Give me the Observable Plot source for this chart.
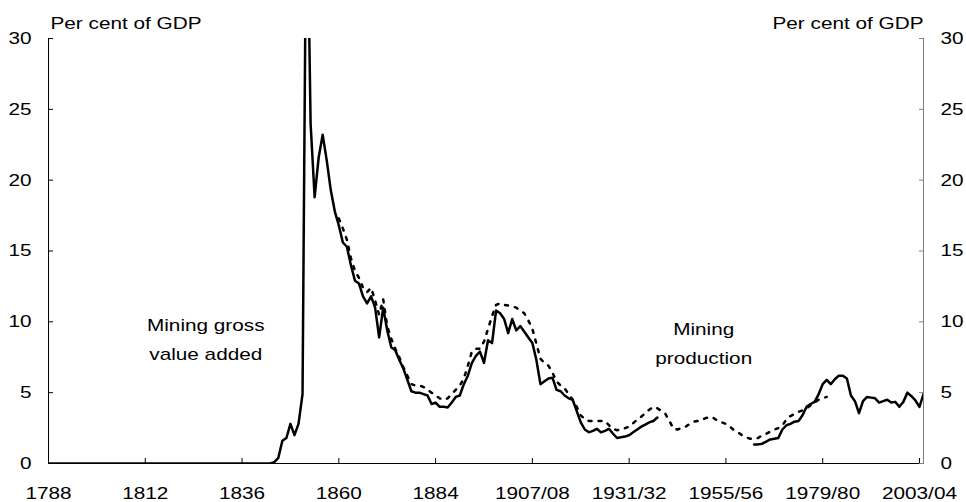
<!DOCTYPE html>
<html>
<head>
<meta charset="utf-8">
<script src="https://cdn.jsdelivr.net/npm/d3@7"></script>
<script src="https://cdn.jsdelivr.net/npm/@observablehq/plot@0.6"></script>
<style>
html, body { margin: 0; padding: 0; background: #fff; }
#chart svg { display: block; }
</style>
</head>
<body>
<div id="chart"></div>
<script>
// ---- data ----
const xDomain = [1788, 2005];
const yDomain = [0, 30];
const xTickYears = [1788, 1812, 1836, 1860, 1884, 1908, 1932, 1956, 1980, 2004];
const xTickLabels = ["1788", "1812", "1836", "1860", "1884", "1907/08", "1931/32", "1955/56", "1979/80", "2003/04"];
const yTicks = [0, 5, 10, 15, 20, 25, 30];
const axisTitle = "Per cent of GDP";

// Mining gross value added (solid), [year, per cent of GDP]; null = gap in data
const gvaSeries = [
  [1788, 0], [1843, 0], [1844, 0.1], [1845, 0.4], [1846, 1.6], [1847, 1.8], [1848, 2.8], [1849, 2.0],
  [1850, 2.8], [1851, 4.9], [1852, 43], [1853, 24], [1854, 18.8], [1855, 21.6], [1856, 23.2], [1857, 21.4],
  [1858, 19.3], [1859, 17.8], [1860, 16.8], [1861, 15.6], [1862, 15.3], [1863, 14.0], [1864, 12.9],
  [1865, 12.7], [1866, 11.8], [1867, 11.3], [1868, 11.8], [1869, 11.0], [1870, 8.9], [1871, 11.0],
  [1872, 9.4], [1873, 8.2], [1874, 8.0], [1875, 7.3], [1876, 6.7], [1877, 5.9], [1878, 5.1], [1879, 5.0],
  [1880, 5.0], [1881, 4.9], [1882, 4.8], [1883, 4.2], [1884, 4.3], [1885, 4.0], [1886, 4.0], [1887, 3.95],
  [1888, 4.3], [1889, 4.7], [1890, 4.8], [1891, 5.6], [1892, 6.2], [1893, 7.1], [1894, 7.6], [1895, 7.9],
  [1896, 7.1], [1897, 8.7], [1898, 8.5], [1899, 10.8], [1900, 10.6], [1901, 10.2], [1902, 9.2], [1903, 10.2],
  [1904, 9.4], [1905, 9.7], [1906, 9.3], [1907, 8.9], [1908, 8.5], [1909, 7.3], [1910, 5.6], [1911, 5.8],
  [1912, 6.0], [1913, 6.05], [1914, 5.2], [1915, 5.1], [1916, 4.8], [1917, 4.6], [1918, 4.5], [1919, 3.7],
  [1920, 2.9], [1921, 2.4], [1922, 2.2], [1923, 2.3], [1924, 2.45], [1925, 2.2], [1926, 2.3], [1927, 2.45],
  [1928, 2.1], [1929, 1.8], [1930, 1.85], [1931, 1.9], [1932, 2.0], [1933, 2.2], [1934, 2.4], [1935, 2.6],
  [1936, 2.75], [1937, 2.9], [1938, 3.0], [1939, 3.25],
  [1950, null],
  [1963, 1.35], [1964, 1.35], [1965, 1.4], [1966, 1.55], [1967, 1.7], [1968, 1.75], [1969, 1.8], [1970, 2.4],
  [1971, 2.7], [1972, 2.8], [1973, 2.95], [1974, 3.0], [1975, 3.4], [1976, 4.0], [1977, 4.2], [1978, 4.35],
  [1979, 4.9], [1980, 5.6], [1981, 5.9], [1982, 5.6], [1983, 5.95], [1984, 6.2], [1985, 6.2], [1986, 6.0],
  [1987, 4.8], [1988, 4.4], [1989, 3.55], [1990, 4.4], [1991, 4.7], [1992, 4.65], [1993, 4.6], [1994, 4.3],
  [1995, 4.4], [1996, 4.5], [1997, 4.3], [1998, 4.35], [1999, 4.0], [2000, 4.35], [2001, 5.0], [2002, 4.75],
  [2003, 4.45], [2004, 4.0], [2005, 4.9]
];

// Mining production (dotted), [year, per cent of GDP]
const prodSeries = [
  [1860, 17.3], [1861, 16.6], [1862, 15.8], [1863, 14.5], [1864, 13.6], [1865, 13.1], [1866, 12.4],
  [1867, 12.1], [1868, 12.4], [1869, 11.5], [1870, 10.5], [1871, 11.6], [1872, 9.7], [1873, 8.8],
  [1874, 8.1], [1875, 7.5], [1876, 6.8], [1877, 6.2], [1878, 5.6], [1879, 5.5], [1880, 5.5], [1881, 5.4],
  [1882, 5.2], [1883, 5.0], [1884, 4.8], [1885, 4.6], [1886, 4.5], [1887, 4.6], [1888, 4.9], [1889, 5.2],
  [1890, 5.5], [1891, 6.0], [1892, 6.9], [1893, 7.9], [1894, 8.1], [1895, 8.1], [1896, 8.6], [1897, 9.5],
  [1898, 10.4], [1899, 11.2], [1900, 11.3], [1901, 11.2], [1902, 11.15], [1903, 11.1], [1904, 11.0],
  [1905, 10.8], [1906, 10.6], [1907, 10.1], [1908, 9.5], [1909, 8.45], [1910, 7.4], [1911, 7.1],
  [1912, 6.9], [1913, 6.4], [1914, 5.8], [1915, 5.5], [1916, 5.3], [1917, 4.9], [1918, 4.5], [1919, 4.0],
  [1920, 3.4], [1921, 3.15], [1922, 3.0], [1923, 3.0], [1924, 3.0], [1925, 3.0], [1926, 3.0], [1927, 2.7],
  [1928, 2.45], [1929, 2.35], [1930, 2.4], [1931, 2.5], [1932, 2.6], [1933, 2.85], [1934, 3.1], [1935, 3.3],
  [1936, 3.55], [1937, 3.8], [1938, 4.0], [1939, 3.9], [1940, 3.7], [1941, 3.5], [1942, 3.0], [1943, 2.45],
  [1944, 2.4], [1945, 2.5], [1946, 2.6], [1947, 2.8], [1948, 2.95], [1949, 3.0], [1950, 3.1], [1951, 3.2],
  [1952, 3.3], [1953, 3.2], [1954, 3.0], [1955, 2.9], [1956, 2.8], [1957, 2.6], [1958, 2.35], [1959, 2.2],
  [1960, 2.0], [1961, 1.85], [1962, 1.75], [1963, 1.75], [1964, 1.8], [1965, 2.0], [1966, 2.1], [1967, 2.25],
  [1968, 2.4], [1969, 2.5], [1970, 2.7], [1971, 3.1], [1972, 3.35], [1973, 3.5], [1974, 3.65], [1975, 3.75],
  [1976, 3.9], [1977, 4.1], [1978, 4.3], [1979, 4.5], [1980, 4.6], [1981, 4.7]
];

// In-chart labels
const annText = ["Mining gross", "value added", "Mining", "production"];
const annYear = [1827, 1827, 1950.5, 1950.5];
const annValue = [9.77, 7.72, 9.49, 7.44];

// ---- chart ----
const FONT = "'Liberation Sans', Arial, Helvetica, sans-serif";
const FS = 17;
const annotations = annText.map((t, i) => ({text: t, x: annYear[i], y: annValue[i]}));
const fmtX = d => xTickLabels[xTickYears.indexOf(d)];

const chart = Plot.plot({
  width: 966,
  height: 502,
  marginLeft: 48,
  marginRight: 43,
  marginTop: 38,
  marginBottom: 39,
  style: {fontFamily: FONT, fontSize: FS + "px", color: "#000", background: "#fff", overflow: "visible"},
  x: {type: "linear", domain: xDomain},
  y: {type: "linear", domain: yDomain},
  marks: [
    // axis lines
    Plot.ruleX([xDomain[1]], {stroke: "#808080", strokeWidth: 1}),
    Plot.ruleX([xDomain[0]], {stroke: "#000", strokeWidth: 1}),
    Plot.ruleY([yDomain[0]], {stroke: "#000", strokeWidth: 1}),
    // axes with inward ticks
    Plot.axisY(yTicks, {anchor: "left", tickSize: -5, tickPadding: 22, label: null, fontSize: FS, stroke: "#000", fill: "#000"}),
    Plot.axisY(yTicks, {anchor: "right", tickSize: -5, tickPadding: 22, label: null, fontSize: FS, stroke: "#808080", fill: "#000"}),
    Plot.axisX(xTickYears, {anchor: "bottom", tickSize: -5, tickPadding: 28, tickFormat: fmtX, label: null, fontSize: FS, stroke: "#000", fill: "#000"}),
    // series
    Plot.line(prodSeries, {x: d => d[0], y: d => d[1], stroke: "#000", strokeWidth: 2.5, strokeDasharray: "3,7", clip: true}),
    Plot.line(gvaSeries, {x: d => d[0], y: d => d[1], stroke: "#000", strokeWidth: 2.5, clip: true}),
    // annotations
    Plot.text(annotations, {x: "x", y: "y", text: "text", fontSize: FS, fill: "#000", textAnchor: "middle"}),
    // axis titles
    Plot.text([axisTitle], {text: d => d, frameAnchor: "top-left", textAnchor: "start", lineAnchor: "bottom", dx: 2, dy: -10, fontSize: FS, fill: "#000"}),
    Plot.text([axisTitle], {text: d => d, frameAnchor: "top-right", textAnchor: "end", lineAnchor: "bottom", dx: 0, dy: -10, fontSize: FS, fill: "#000"})
  ]
});

document.getElementById("chart").append(chart);

// the reference font is horizontally wide: stretch text widths
chart.querySelectorAll("text").forEach(t => {
  if (t.querySelector("tspan")) return;
  const len = t.getComputedTextLength();
  if (len > 0) {
    t.setAttribute("textLength", (len * 1.22).toFixed(2));
    t.setAttribute("lengthAdjust", "spacingAndGlyphs");
  }
});
</script>
</body>
</html>
